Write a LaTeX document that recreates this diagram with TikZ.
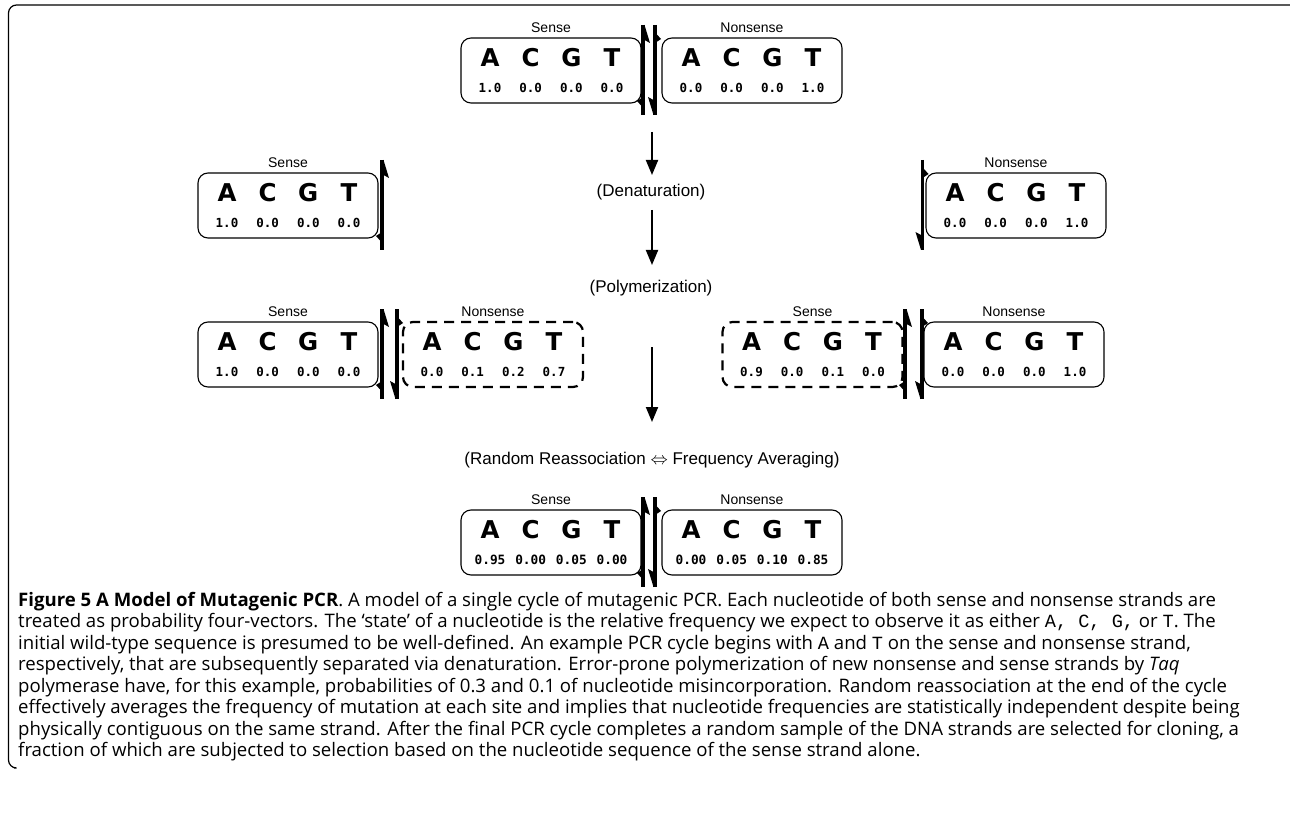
\documentclass[tikz,border=0pt]{standalone}
\usepackage{fontspec}
\setmainfont{Liberation Sans}
\newfontfamily\capfont{Open Sans}
\newfontfamily\nucfont{DejaVu Sans}
\newfontfamily\numfont{DejaVu Sans Mono}
\newfontfamily\capmono{Liberation Mono}
\usetikzlibrary{arrows.meta}
\tikzset{
 lbl/.style={font=\fontsize{14}{16}\selectfont, inner sep=0pt},
 stage/.style={font=\fontsize{17}{20}\selectfont, inner sep=0pt},
 nuc/.style={font=\nucfont\bfseries\fontsize{24.5}{26}\selectfont, inner sep=0pt},
 num/.style={font=\numfont\bfseries\fontsize{12.5}{14}\selectfont, inner sep=0pt},
 numb/.style={font=\numfont\bfseries\fontsize{12.8}{14}\selectfont, inner sep=0pt},
 solidbox/.style={draw, line width=1.1pt, rounded corners=10pt, minimum width=180pt, minimum height=65pt, inner sep=0pt},
 dashbox/.style={draw, line width=2.2pt, dash pattern=on 10pt off 7pt, rounded corners=10pt, minimum width=180pt, minimum height=65pt, inner sep=0pt},
 strand/.style={line width=3.2pt},
 flow/.style={line width=2pt, -{Triangle[length=15pt,width=12pt]}},
 frame/.style={line width=1.2pt, rounded corners=8pt},
 capline/.style={font=\capfont\fontsize{18.6}{21}\selectfont, inner sep=0pt, anchor=base west},
}
% box: name, cx, ytop, style, label, n1..n4
\newcommand{\nbox}[9]{%
 \node[#4] (#1) at ({#2},{#3+32.5}) {};
 \node[lbl] (#1l) at ({#2},{#3-10}) {#5};
 \node[nuc] (#1A) at ({#2-61},{#3+20}) {A};
 \node[nuc] (#1C) at ({#2-20.3},{#3+20}) {C};
 \node[nuc] (#1G) at ({#2+20.3},{#3+20}) {G};
 \node[nuc] (#1T) at ({#2+61},{#3+20}) {T};
 \node[\numsty] (#1a) at ({#2-61},{#3+50}) {#6};
 \node[\numsty] (#1c) at ({#2-20.3},{#3+50}) {#7};
 \node[\numsty] (#1g) at ({#2+20.3},{#3+50}) {#8};
 \node[\numsty] (#1t) at ({#2+61},{#3+50}) {#9};
}
\def\numsty{num}
% strands: x, ytop, ybot
\newcommand{\sensestrand}[3]{%
 \draw[strand] ({#1},{#2}) -- ({#1},{#3});
 \fill ({#1+1.5},{#2}) -- ({#1+7},{#2+18}) -- ({#1+1.5},{#2+15}) -- cycle;
 \fill ({#1-1.5},{#3-9}) -- ({#1-6},{#3-14}) -- ({#1-1.5},{#3-17}) -- cycle;
}
\newcommand{\nonsensestrand}[3]{%
 \draw[strand] ({#1},{#2}) -- ({#1},{#3});
 \fill ({#1-1.5},{#3}) -- ({#1-7},{#3-18}) -- ({#1-1.5},{#3-15}) -- cycle;
 \fill ({#1+1.5},{#2+9}) -- ({#1+6},{#2+14}) -- ({#1+1.5},{#2+17}) -- cycle;
}
\begin{document}
\begin{tikzpicture}[x=1pt,y=-1pt]
\useasboundingbox (0,0) rectangle (1290,818);
\fill[white] (0,0) rectangle (1290,818);
% frame
\draw[frame] (1290,5) -- (8.5,5) -- (8.5,768) -- (14,768);

% top pair
\nbox{ts}{551}{38}{solidbox}{Sense}{1.0}{0.0}{0.0}{0.0}
\nbox{tn}{752}{38}{solidbox}{Nonsense}{0.0}{0.0}{0.0}{1.0}
\sensestrand{643}{25}{115}
\nonsensestrand{655}{25}{115}

% denaturation row
\nbox{ms}{288}{173}{solidbox}{Sense}{1.0}{0.0}{0.0}{0.0}
\sensestrand{382}{160}{250}
\nbox{mn}{1016}{173}{solidbox}{Nonsense}{0.0}{0.0}{0.0}{1.0}
\nonsensestrand{922.5}{160}{250}

% polymerization row
\nbox{pls}{288}{322}{solidbox}{Sense}{1.0}{0.0}{0.0}{0.0}
\nbox{pln}{493}{322}{dashbox}{Nonsense}{0.0}{0.1}{0.2}{0.7}
\sensestrand{382}{309}{399}
\nonsensestrand{397}{309}{399}
\nbox{prs}{812.5}{322}{dashbox}{Sense}{0.9}{0.0}{0.1}{0.0}
\nbox{prn}{1014}{322}{solidbox}{Nonsense}{0.0}{0.0}{0.0}{1.0}
\sensestrand{905}{309}{399}
\nonsensestrand{922}{309}{399}

% bottom pair
\def\numsty{numb}
\nbox{bs}{551}{510}{solidbox}{Sense}{0.95}{0.00}{0.05}{0.00}
\nbox{bn}{752}{510}{solidbox}{Nonsense}{0.00}{0.05}{0.10}{0.85}
\sensestrand{643}{497}{587}
\nonsensestrand{655}{497}{587}

% stages
\node[stage] (den) at (651,192) {(Denaturation)};
\node[stage] (pol) at (651,288) {(Polymerization)};
\node[stage] (rra) at (652,460) {(Random Reassociation $\Leftrightarrow$ Frequency Averaging)};
\coordinate (a1s) at (652,132);
\coordinate (a1e) at (652,175);
\coordinate (a2s) at (652,210);
\coordinate (a2e) at (652,265);
\coordinate (a3s) at (652,347);
\coordinate (a3e) at (652,422);
\draw[flow] (a1s) -- (a1e);
\draw[flow] (a2s) -- (a2e);
\draw[flow] (a3s) -- (a3e);

% caption
\node[capline] (c1) at (18,606) {\textbf{Figure 5 A Model of Mutagenic PCR}. A model of a single cycle of mutagenic PCR. Each nucleotide of both sense and nonsense strands are};
\node[capline] (c2) at (18,627.5) {treated as probability four-vectors. The ‘state’ of a nucleotide is the relative frequency we expect to observe it as either {\capmono A, C, G,} or {\capmono T}. The};
\node[capline] (c3) at (18,649) {initial wild-type sequence is presumed to be well-defined. An example PCR cycle begins with {\capmono A} and {\capmono T} on the sense and nonsense strand,};
\node[capline] (c4) at (18,670.5) {respectively, that are subsequently separated via denaturation. Error-prone polymerization of new nonsense and sense strands by \textit{Taq}};
\node[capline] (c5) at (18,692) {polymerase have, for this example, probabilities of 0.3 and 0.1 of nucleotide misincorporation. Random reassociation at the end of the cycle};
\node[capline] (c6) at (18,713.5) {effectively averages the frequency of mutation at each site and implies that nucleotide frequencies are statistically independent despite being};
\node[capline] (c7) at (18,735) {physically contiguous on the same strand. After the final PCR cycle completes a random sample of the DNA strands are selected for cloning, a};
\node[capline] (c8) at (18,756.5) {fraction of which are subjected to selection based on the nucleotide sequence of the sense strand alone.};
\end{tikzpicture}
\end{document}
